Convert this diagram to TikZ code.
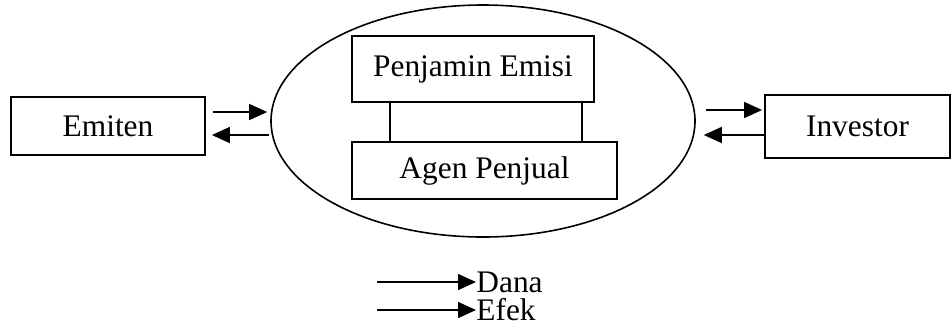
\documentclass[tikz,border=0pt]{standalone}
\usepackage{fontspec}
\setmainfont{Liberation Serif}
\usetikzlibrary{arrows.meta,calc,shapes.geometric}
\begin{document}
\begin{tikzpicture}[x=0.5pt,y=-0.5pt,
  box/.style={draw,line width=0.9pt,inner sep=0pt,font=\fontsize{15.7}{18}\selectfont},
  arr/.style={line width=0.8pt,-{Triangle[length=9pt,width=8pt]}},
  lbl/.style={inner sep=0pt,font=\fontsize{15.7}{18}\selectfont}]
\useasboundingbox (0,0) rectangle (952,329);
\node[draw,ellipse,line width=0.8pt,minimum width=212pt,minimum height=116pt,inner sep=0pt] (ell) at (483,121) {};
\node[box,minimum width=97pt,minimum height=29pt] (emiten) at (108,126) {Emiten};
\node[box,minimum width=92.5pt,minimum height=31.5pt] (investor) at (857.5,126.5) {Investor};
\node[box,minimum width=121pt,minimum height=33pt] (pe) at (473,69) {Penjamin Emisi};
\node[box,minimum width=132.5pt,minimum height=28.5pt] (ap) at (484.5,170.5) {Agen Penjual};
% vertical links
\draw[line width=0.8pt] ($(pe.south west)+(39,0)$) -- ($(pe.south west |- ap.north)+(39,0)$);
\draw[line width=0.8pt] ($(pe.south west)+(231,0)$) -- ($(pe.south west |- ap.north)+(231,0)$);
% left arrows
\draw[arr] ([xshift=3.5pt,yshift=7pt]emiten.east) -- ([xshift=-1.5pt,yshift=4.5pt]ell.west);
\draw[arr] ([xshift=-0.5pt,yshift=-7pt]ell.west) -- ([xshift=3pt,yshift=-4.5pt]emiten.east);
% right arrows
\draw[arr] ([xshift=5pt,yshift=5.5pt]ell.east) -- ([xshift=-1pt,yshift=8.25pt]investor.west);
\draw[arr] ([yshift=-4.25pt]investor.west) -- ([xshift=4pt,yshift=-7pt]ell.east);
% legend
\node[lbl,anchor=west] (dana) at (476,282) {Dana};
\node[lbl,anchor=west] (efek) at (476,310) {Efek};
\coordinate (d0) at (377,282);
\coordinate (e0) at (377,310);
\draw[arr] (d0) -- (dana.west);
\draw[arr] (e0) -- (efek.west);
\end{tikzpicture}
\end{document}
